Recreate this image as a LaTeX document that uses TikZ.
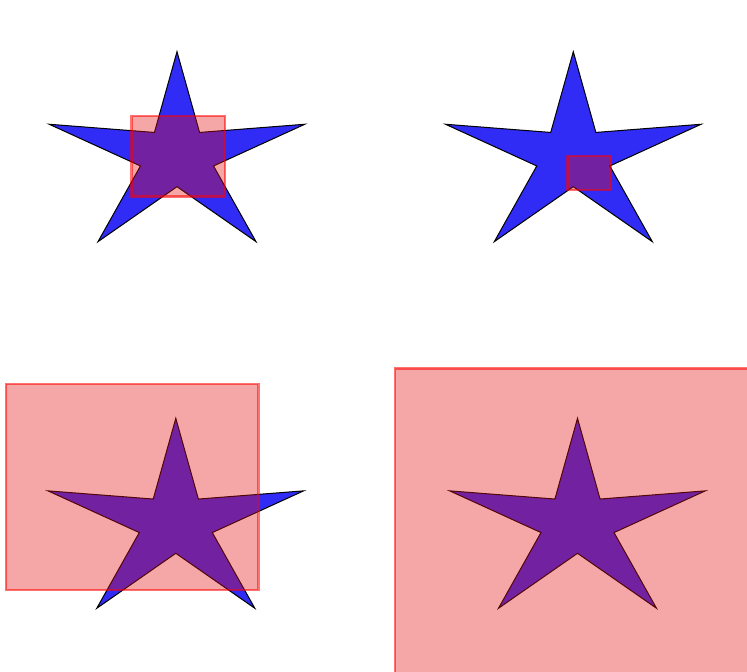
\documentclass[tikz,border=0pt]{standalone}
\definecolor{starblue}{RGB}{48,44,245}
\definecolor{boxred}{RGB}{228,17,17}
\tikzset{
  starstyle/.style={fill=starblue, draw=black, line width=1pt, line join=miter},
  boxstyle/.style={fill=boxred, fill opacity=0.37, draw=red, draw opacity=0.55, line width=2.6pt},
  pics/mystar/.style={code={
    \draw[starstyle,xscale=1.28] (270:105) -- (306:30) -- (342:105) -- (18:30) -- (54:105)
      -- (90:30) -- (126:105) -- (162:30) -- (198:105) -- (234:30) -- cycle;}}
}
\begin{document}
\begin{tikzpicture}[x=1pt,y=-1pt]
\useasboundingbox (0,0) rectangle (747,672);
\fill[white] (0,0) rectangle (747,672);
\pic at (177,156.7) {mystar};
\pic at (573.3,156.7) {mystar};
\pic at (175.8,523.3) {mystar};
\pic at (577.5,523.3) {mystar};
\draw[boxstyle] (131.7,116) rectangle (225,196.7);
\draw[boxstyle] (567.3,156) rectangle (611,190);
\draw[boxstyle] (6,384) rectangle (258.3,590);
\draw[boxstyle] (395,368.3) rectangle (755,680);
\end{tikzpicture}
\end{document}
